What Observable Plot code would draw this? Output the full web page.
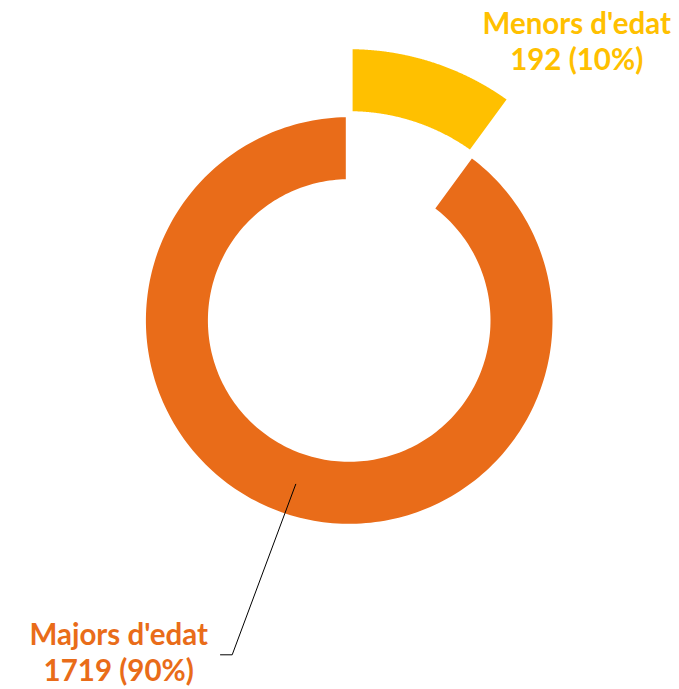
<!DOCTYPE html>
<html>
<head>
<meta charset="utf-8">
<script src="https://cdn.jsdelivr.net/npm/d3@7"></script>
<script src="https://cdn.jsdelivr.net/npm/@observablehq/plot@0.6"></script>
<style>
  html, body { margin: 0; padding: 0; background: #ffffff; }
  #chart svg { display: block; }
</style>
</head>
<body>
<div id="chart"></div>
<script>
// ---- data ----
const categories = ["Menors d'edat", "Majors d'edat"];
const values = [192, 1719];
const colors = ["#FFC000", "#E96C19"];
const explodedCategory = "Menors d'edat";

// ---- layout (pixels, relative to donut centre, y up) ----
const W = 679, H = 689;
const CX = 348.7, CY = 320;
const R_IN = 141.3, R_OUT = 203.3;   // visible ring radii
const EXPLODE = 68;                   // radial push of exploded slice
const GAP = 3.4;                      // half gap between slices
const labelPos = {
  "Menors d'edat": {x: 227.5, y: 312},
  "Majors d'edat": {x: -230.5, y: -298.5}
};
const leaderKnee = {x: -117, y: -334.3};
const leaderEnd = {x: -128.7, y: -334.3};

const total = d3.sum(values);
let acc = 0;
const slices = categories.map((name, i) => {
  const a0 = acc / total * 360;
  acc += values[i];
  const a1 = acc / total * 360;
  const off = name === explodedCategory ? EXPLODE : 0;
  return {name, value: values[i], color: colors[i], a0, a1, rIn: R_IN + off, rOut: R_OUT + off,
          pct: Math.round(values[i] / total * 100)};
});

const rad = d => d * Math.PI / 180;
function sectorPoints(s) {
  const pts = [];
  const N = 240;
  const dOut = Math.asin(GAP / s.rOut) * 180 / Math.PI;
  const dIn = Math.asin(GAP / s.rIn) * 180 / Math.PI;
  const o0 = s.a0 + dOut, o1 = s.a1 - dOut;
  for (let k = 0; k <= N; k++) {
    const a = o0 + (o1 - o0) * k / N;
    pts.push({name: s.name, x: s.rOut * Math.sin(rad(a)), y: s.rOut * Math.cos(rad(a))});
  }
  const i0 = s.a0 + dIn, i1 = s.a1 - dIn;
  for (let k = N; k >= 0; k--) {
    const a = i0 + (i1 - i0) * k / N;
    pts.push({name: s.name, x: s.rIn * Math.sin(rad(a)), y: s.rIn * Math.cos(rad(a))});
  }
  return pts;
}

const major = slices.find(s => s.name === "Majors d'edat");
const midA = (major.a0 + major.a1) / 2;
const midR = (major.rIn + major.rOut) / 2;
const leader = [
  {x: midR * Math.sin(rad(midA)), y: midR * Math.cos(rad(midA))},
  leaderKnee,
  leaderEnd
];

const labels = slices.map(s => ({
  text: `${s.name}\n${s.value} (${s.pct}%)`,
  x: labelPos[s.name].x, y: labelPos[s.name].y, color: s.color
}));

const chart = Plot.plot({
  width: W, height: H,
  margin: 0,
  x: {domain: [-CX, W - CX], range: [0, W], axis: null},
  y: {domain: [CY - H, CY], range: [H, 0], axis: null},
  style: {background: "#ffffff"},
  marks: [
    ...slices.map(s => Plot.line(sectorPoints(s), {x: "x", y: "y", fill: s.color, stroke: "none", curve: "linear-closed"})),
    Plot.line(leader, {x: "x", y: "y", stroke: "#000000", strokeWidth: 1}),
    ...labels.map(l => Plot.text([l], {
      x: "x", y: "y", text: "text", fill: l.color,
      fontSize: 29.5, fontWeight: "bold", fontFamily: "Lato",
      textAnchor: "middle", lineAnchor: "top", lineHeight: 1.22
    }))
  ]
});
document.getElementById("chart").appendChild(chart);
</script>
</body>
</html>
